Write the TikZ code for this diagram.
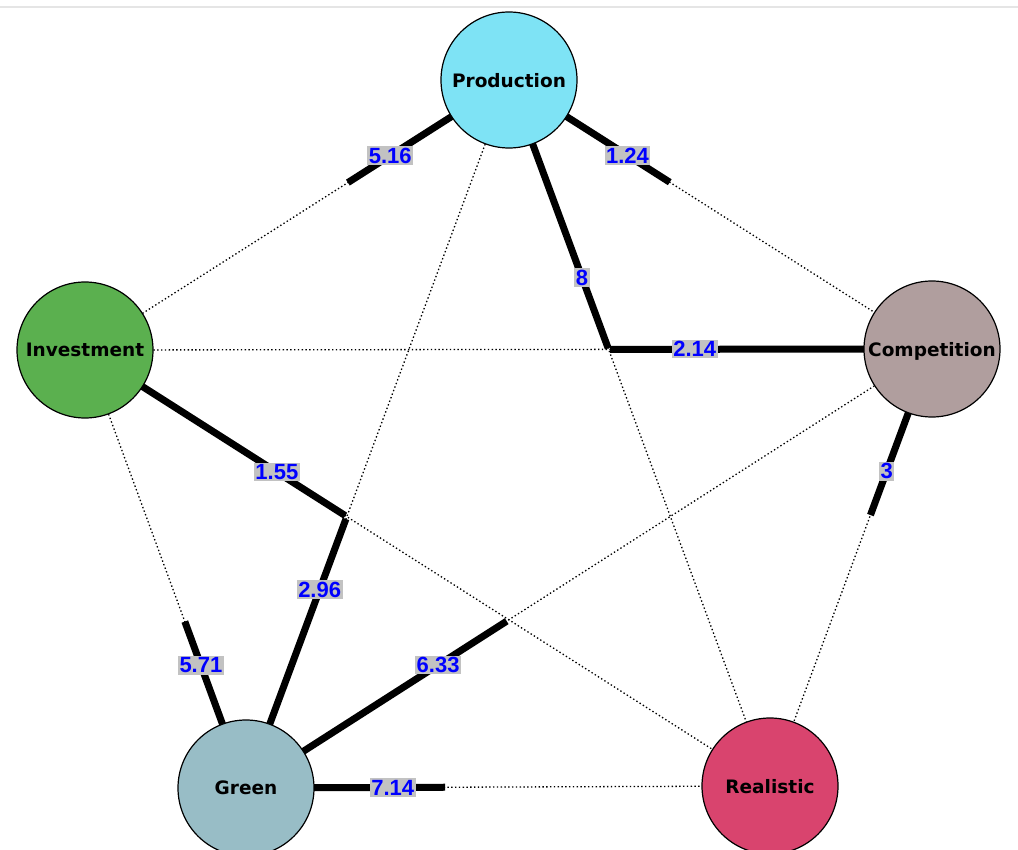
\documentclass[tikz,border=0pt]{standalone}
\usepackage{fontspec}
\setmainfont{DejaVu Sans}
\newfontfamily\lblfont{Liberation Sans}
\usetikzlibrary{calc,backgrounds}
\definecolor{prodcol}{HTML}{7EE3F5}
\definecolor{invcol}{HTML}{5BB04F}
\definecolor{compcol}{HTML}{B09E9E}
\definecolor{greencol}{HTML}{98BDC6}
\definecolor{realcol}{HTML}{D9446E}
\definecolor{lblgray}{HTML}{C2C2C2}
\tikzset{vbox/.style={
    circle,
    draw,
    line width=1.2pt,
    minimum size=136pt,
    inner sep=0pt,
    text depth=-2pt,
    font=\fontsize{18.5}{20}\selectfont\bfseries
  },
  prodbox/.style={vbox,fill=prodcol},
  invbox/.style={vbox,fill=invcol},
  compbox/.style={vbox,fill=compcol},
  greenbox/.style={vbox,fill=greencol},
  realbox/.style={vbox,fill=realcol},
  dotedge/.style={line width=1.3pt,dash pattern=on 1.4pt off 2.4pt},
  wedge/.style={line width=7pt},
  wlabel/.style={fill=lblgray,text=blue,inner sep=1.5pt,pos=0.737,
    font=\lblfont\fontsize{22}{24}\selectfont\bfseries},
}
\begin{document}
\begin{tikzpicture}[x=1pt,y=-1pt]
  \useasboundingbox (0,0) rectangle (1018,850);
  \clip (0,0) rectangle (1018,850);
  \draw[gray!20,line width=1.5pt] (0,7) -- (1018,7);
  \node [prodbox] (prod) at (509,80) {Production};
  \node [invbox] (inv) at (85,350) {Investment};
  \node [compbox] (comp) at (932,349) {Competition};
  \node [greenbox] (green) at (246,788) {Green};
  \node [realbox] (real) at (770,786) {Realistic};
  \begin{pgfonlayer}{background}
    % all pairs, dotted
    \draw[dotedge] (prod.center) -- (inv.center);
    \draw[dotedge] (prod.center) -- (comp.center);
    \draw[dotedge] (prod.center) -- (real.center);
    \draw[dotedge] (prod.center) -- (green.center);
    \draw[dotedge] (inv.center) -- (comp.center);
    \draw[dotedge] (inv.center) -- (green.center);
    \draw[dotedge] (inv.center) -- (real.center);
    \draw[dotedge] (comp.center) -- (green.center);
    \draw[dotedge] (comp.center) -- (real.center);
    \draw[dotedge] (green.center) -- (real.center);
    % weighted part
    \draw[wedge] (prod.center) -- ($(prod.center)!0.38!(inv.center)$) node [wlabel] {5.16};
    \draw[wedge] (prod.center) -- ($(prod.center)!0.38!(comp.center)$) node [wlabel] {1.24};
    \draw[wedge] (prod.center) -- ($(prod.center)!0.38!(real.center)$) node [wlabel] {8};
    \draw[wedge] (comp.center) -- ($(comp.center)!0.38!(inv.center)$) node [wlabel] {2.14};
    \draw[wedge] (comp.center) -- ($(comp.center)!0.38!(real.center)$) node [wlabel] {3};
    \draw[wedge] (inv.center) -- ($(inv.center)!0.38!(real.center)$) node [wlabel] {1.55};
    \draw[wedge] (green.center) -- ($(green.center)!0.38!(prod.center)$) node [wlabel] {2.96};
    \draw[wedge] (green.center) -- ($(green.center)!0.38!(inv.center)$) node [wlabel] {5.71};
    \draw[wedge] (green.center) -- ($(green.center)!0.38!(comp.center)$) node [wlabel] {6.33};
    \draw[wedge] (green.center) -- ($(green.center)!0.38!(real.center)$) node [wlabel] {7.14};
  \end{pgfonlayer}
\end{tikzpicture}
\end{document}
